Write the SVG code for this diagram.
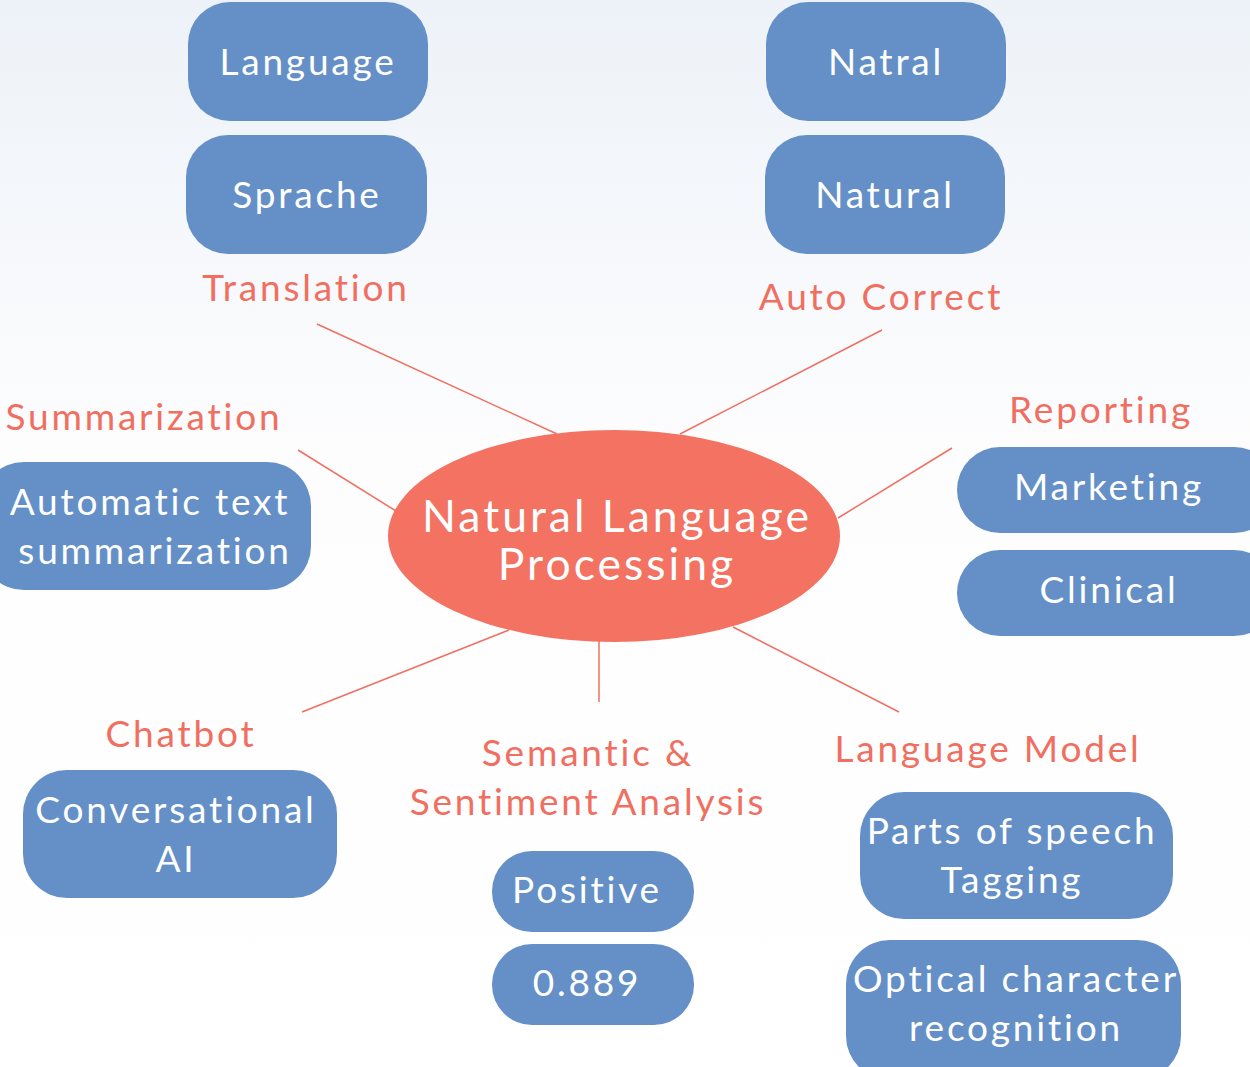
<svg xmlns="http://www.w3.org/2000/svg" width="1250" height="1067" viewBox="0 0 1250 1067">
<defs>
<linearGradient id="bg" x1="0" y1="0" x2="0" y2="1">
<stop offset="0" stop-color="#EDF2F8"/>
<stop offset="0.42" stop-color="#FDFDFE"/>
<stop offset="1" stop-color="#FFFFFF"/>
</linearGradient>
<style>
.box{fill:#6490C7;}
.bt{fill:#FFFFFF;font-family:Lato,"Open Sans",sans-serif;font-size:37px;letter-spacing:2.8px;text-anchor:middle;}
.lbl{fill:#F06F60;font-family:Lato,"Open Sans",sans-serif;font-size:37px;letter-spacing:2.8px;text-anchor:middle;}
.ct{fill:#FFFFFF;font-family:Lato,"Open Sans",sans-serif;font-size:44.5px;letter-spacing:3px;text-anchor:middle;}
.edge{stroke:#F06F60;stroke-width:1.5;fill:none;}
</style>
</defs>
<rect x="0" y="0" width="1250" height="1067" fill="url(#bg)"/>
<g id="connectors">
<line class="edge" x1="317" y1="324" x2="557" y2="434"/>
<line class="edge" x1="882" y1="330" x2="680" y2="434"/>
<line class="edge" x1="298" y1="450" x2="396" y2="511"/>
<line class="edge" x1="952" y1="448" x2="838" y2="518"/>
<line class="edge" x1="302" y1="712" x2="509" y2="630"/>
<line class="edge" x1="599" y1="641" x2="599" y2="702"/>
<line class="edge" x1="899" y1="712" x2="733" y2="627"/>
</g>
<g id="center">
<ellipse cx="614" cy="536" rx="226" ry="106" fill="#F37262"/>
<text class="ct" x="617" y="532">Natural Language</text>
<text class="ct" x="617" y="580">Processing</text>
</g>
<g id="translation">
<text class="lbl" x="306" y="301">Translation</text>
</g>
<g id="language">
<rect class="box" x="188" y="2" width="240" height="119" rx="42"/>
<text class="bt" x="308" y="75">Language</text>
</g>
<g id="sprache">
<rect class="box" x="186" y="135" width="241" height="119" rx="42"/>
<text class="bt" x="307" y="208">Sprache</text>
</g>
<g id="autocorrect">
<text class="lbl" x="881" y="310">Auto Correct</text>
</g>
<g id="natral">
<rect class="box" x="766" y="2" width="240" height="119" rx="42"/>
<text class="bt" x="886" y="75">Natral</text>
</g>
<g id="natural">
<rect class="box" x="765" y="135" width="240" height="119" rx="42"/>
<text class="bt" x="885" y="208">Natural</text>
</g>
<g id="summarization">
<text class="lbl" x="144" y="430">Summarization</text>
</g>
<g id="automatic">
<rect class="box" x="-20" y="462" width="331" height="128" rx="44"/>
<text class="bt" x="150" y="515">Automatic text</text>
<text class="bt" x="155" y="564">summarization</text>
</g>
<g id="reporting">
<text class="lbl" x="1101" y="423">Reporting</text>
</g>
<g id="marketing">
<rect class="box" x="957" y="447" width="320" height="86" rx="43"/>
<text class="bt" x="1109" y="500">Marketing</text>
</g>
<g id="clinical">
<rect class="box" x="957" y="550" width="320" height="86" rx="43"/>
<text class="bt" x="1109" y="603">Clinical</text>
</g>
<g id="chatbot">
<text class="lbl" x="181" y="747">Chatbot</text>
</g>
<g id="conversational">
<rect class="box" x="23" y="770" width="314" height="128" rx="44"/>
<text class="bt" x="176" y="823">Conversational</text>
<text class="bt" x="176" y="872">AI</text>
</g>
<g id="semantic">
<text class="lbl" x="588" y="766">Semantic &amp;</text>
<text class="lbl" x="588" y="815">Sentiment Analysis</text>
</g>
<g id="positive">
<rect class="box" x="492" y="851" width="202" height="81" rx="40"/>
<text class="bt" x="587" y="903">Positive</text>
</g>
<g id="score">
<rect class="box" x="492" y="944" width="202" height="81" rx="40"/>
<text class="bt" x="587" y="996">0.889</text>
</g>
<g id="languagemodel">
<text class="lbl" x="988" y="762">Language Model</text>
</g>
<g id="pos">
<rect class="box" x="860" y="792" width="313" height="127" rx="44"/>
<text class="bt" x="1012" y="844">Parts of speech</text>
<text class="bt" x="1012" y="893">Tagging</text>
</g>
<g id="ocr">
<rect class="box" x="846" y="940" width="335" height="140" rx="44"/>
<text class="bt" x="1016" y="992">Optical character</text>
<text class="bt" x="1016" y="1041">recognition</text>
</g>
</svg>
